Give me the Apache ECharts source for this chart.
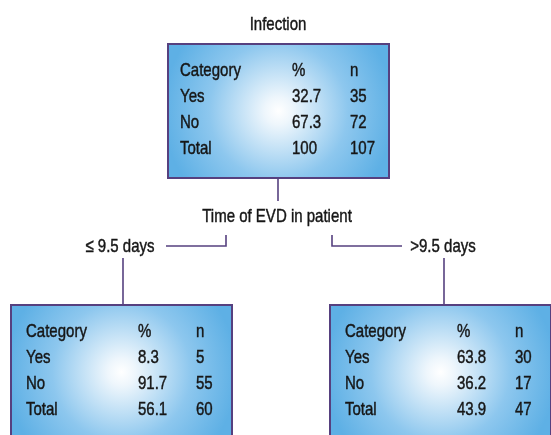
<!DOCTYPE html>
<html>
<head>
<meta charset="utf-8">
<script src="https://cdn.jsdelivr.net/npm/echarts@6/dist/echarts.min.js"></script>
<style>
  html, body { margin: 0; padding: 0; background: #fff; }
  #chart { width: 551px; height: 435px; }
</style>
</head>
<body>
<div id="chart"></div>
<script>
// tree data
var nodeTitles = ['Infection', '\u2264 9.5 days', '>9.5 days'];
var splitVariable = 'Time of EVD in patient';
var tableHeader = ['Category', '%', 'n'];
var categories = ['Yes', 'No', 'Total'];
var percents = [
    [32.7, 67.3, 100],
    [8.3, 91.7, 56.1],
    [63.8, 36.2, 43.9]
];
var counts = [
    [35, 72, 107],
    [5, 55, 60],
    [30, 17, 47]
];

// layout (hidden axes run in pixels of the 551x435 canvas)
var boxW = 221, boxH = 134;
var boxPos = [[168, 44], [11, 305], [330, 305]];
var textShift = [0, 3, 3];
var titlePos = [[278, 25], [120, 247], [443, 247]];
var splitPos = [277, 217];
var connectors = [
    [[278, 179], [278, 201]],
    [[226, 235], [226, 246], [166, 246]],
    [[332, 235], [332, 246], [402, 246]],
    [[123, 258], [123, 305]],
    [[444, 258], [444, 305]]
];
var colX = [12, 124, 182];
var rowY0 = 27, rowStep = 26;

// no condensed face installed, so squeeze Liberation Sans horizontally
var font = '19px "Liberation Sans", Arial, sans-serif';
var squeeze = 0.79;
var textColor = '#161616';
var lineColor = '#56407f';

var myChart = echarts.init(document.getElementById('chart'));

function label(txt, x, y, align) {
    return {
        type: 'text',
        x: x, y: y, scaleX: squeeze,
        style: {
            text: txt, x: 0, y: 0, font: font, fill: textColor,
            stroke: textColor, lineWidth: 0.45,
            align: align || 'left', verticalAlign: 'middle'
        }
    };
}

function renderBox(params, api) {
    var i = api.value(0);
    var p = boxPos[i];
    var tl = api.coord([p[0], p[1]]);
    var br = api.coord([p[0] + boxW, p[1] + boxH]);
    var children = [{
        type: 'rect',
        shape: { x: tl[0], y: tl[1], width: br[0] - tl[0], height: br[1] - tl[1] },
        style: {
            fill: {
                type: 'radial', x: 0.5, y: 0.5, r: 0.85,
                colorStops: [
                    { offset: 0, color: '#ffffff' },
                    { offset: 0.12, color: '#eef6fc' },
                    { offset: 0.6, color: '#8dc7ee' },
                    { offset: 1, color: '#5eb0e5' }
                ]
            },
            stroke: lineColor,
            lineWidth: 2
        }
    }];
    var rows = [tableHeader].concat(categories.map(function (c, r) {
        return [c, String(percents[i][r]), String(counts[i][r])];
    }));
    rows.forEach(function (row, r) {
        row.forEach(function (txt, c) {
            children.push(label(txt, tl[0] + colX[c] + textShift[i], tl[1] + rowY0 + r * rowStep));
        });
    });
    var t = api.coord(titlePos[i]);
    children.push(label(nodeTitles[i], t[0], t[1], 'center'));
    return { type: 'group', children: children };
}

function renderLink(params, api) {
    var pts = connectors[api.value(0)].map(function (pt) { return api.coord(pt); });
    return {
        type: 'polyline',
        shape: { points: pts },
        style: { stroke: lineColor, lineWidth: 1.6, fill: null }
    };
}

function renderSplit(params, api) {
    var s = api.coord(splitPos);
    return label(splitVariable, s[0], s[1], 'center');
}

myChart.setOption({
    animation: false,
    grid: { left: 0, right: 0, top: 0, bottom: 0 },
    xAxis: { type: 'value', min: 0, max: 551, show: false },
    yAxis: { type: 'value', min: 0, max: 435, inverse: true, show: false },
    series: [
        {
            type: 'custom',
            renderItem: renderLink,
            data: connectors.map(function (c, k) { return [k]; }),
            clip: false
        },
        {
            type: 'custom',
            renderItem: renderSplit,
            data: [[0]]
        },
        {
            type: 'custom',
            renderItem: renderBox,
            data: nodeTitles.map(function (n, k) { return [k]; })
        }
    ]
});
</script>
</body>
</html>
